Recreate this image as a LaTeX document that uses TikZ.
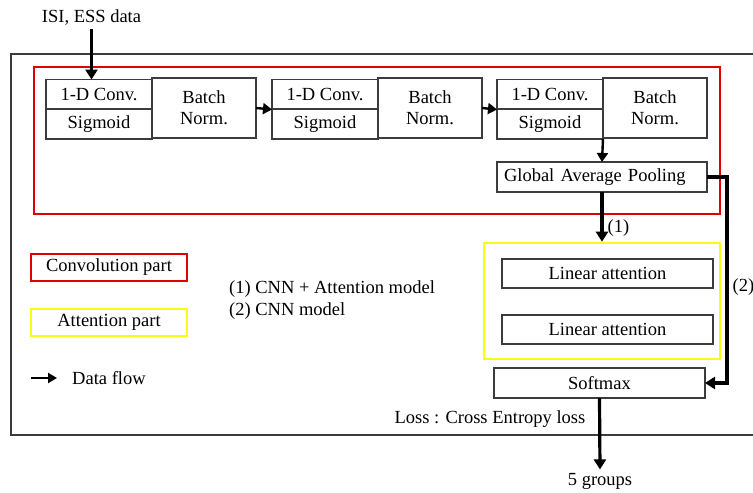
\documentclass[tikz,border=0pt]{standalone}
\usepackage{fontspec}
\setmainfont{Liberation Serif}
\usetikzlibrary{arrows.meta}
\definecolor{redbox}{RGB}{225,0,0}
\definecolor{yelbox}{RGB}{255,250,20}
\definecolor{boxline}{RGB}{60,60,60}
\newcommand{\fsz}{\fontsize{18.5}{22}\selectfont}
\tikzset{
  every node/.style={font=\fsz, text=black},
  cell/.style={draw=boxline, line width=1.1pt, inner sep=0pt, outer sep=0pt, align=center},
  flow/.style={draw=black, line width=3.2pt, -{Triangle[length=10pt,width=12pt]}},
  thinflow/.style={draw=black, line width=2.4pt, -{Triangle[length=9pt,width=11pt]}},
  redframe/.style={draw=redbox, line width=2.4pt, inner sep=0pt},
  yelframe/.style={draw=yelbox, line width=2.6pt, inner sep=0pt},
}
\begin{document}
\begin{tikzpicture}[x=1pt,y=-1pt]
\useasboundingbox (0,0) rectangle (753,493);
% outer frame (right side lies beyond the picture)
\draw[draw=boxline, line width=1.2pt] (753,54) -- (11,54) -- (11,435) -- (753,435);
% red convolution frame
\node[redframe, minimum width=686pt, minimum height=147pt] (convpart) at (377,140.5) {};
% blocks
\foreach \i/\x in {1/46, 2/272, 3/497} {
  \node[cell, minimum width=106pt, minimum height=30pt] (conv\i) at (\x+53,94.5) {1-D Conv.};
  \node[cell, minimum width=106pt, minimum height=30pt] (sig\i) at (\x+53,124) {Sigmoid};
  \node[cell, minimum width=104pt, minimum height=60pt] (bn\i) at (\x+158,108) {Batch\\[-1pt]Norm.};
}
% input
\node (inp) at (91.5,18) {ISI, ESS data};
\draw[flow] (inp.south) -- (inp.south |- conv1.north);
\draw[thinflow] (bn1.east) -- (conv2.south west);
\draw[thinflow] (bn2.east) -- (conv3.south west);
% global average pooling
\node[cell, minimum width=210pt, minimum height=30pt, text width=196pt, align=left] (gap) at (602,177) {Global Average Pooling};
\draw[thinflow] (sig3.south east) -- (gap.north);
% attention part
\node[yelframe, minimum width=236pt, minimum height=116pt] (attpart) at (602,301) {};
\node[cell, minimum width=211pt, minimum height=29pt] (la1) at (607.5,273.5) {Linear attention};
\node[cell, minimum width=211pt, minimum height=29pt] (la2) at (607.5,329.5) {Linear attention};
\draw[flow] (gap.south) -- node[pos=0.72, anchor=west, inner sep=1pt, xshift=3pt] {(1)} (attpart.north);
% softmax
\node[cell, minimum width=211pt, minimum height=30pt] (soft) at (599.5,383) {Softmax};
\coordinate (turn) at (727,177);
\draw[flow] (gap.east) -- (turn) |- node[pos=0.266, anchor=west, inner sep=1pt, xshift=3pt] {(2)} (soft.east);
% output
\node (out) at (600,481) {5 groups};
\draw[flow] (soft.south) -- (out.north);
\node (loss) at (490,419) {Loss : Cross Entropy loss};
% legend
\node[redframe, minimum width=156pt, minimum height=27pt] (legconv) at (109,267.5) {Convolution part};
\node[yelframe, minimum width=156pt, minimum height=27pt] (legatt) at (109,322.5) {Attention part};
\coordinate (dfstart) at (31,378);
\node[anchor=west, inner sep=0pt] (dflabel) at (72,378) {Data flow};
\draw[draw=black, line width=2.6pt, -{Triangle[length=9pt,width=10pt]}, shorten >=15pt] (dfstart) -- (dflabel.west);
\node[anchor=west, align=left, inner sep=0pt] (models) at (229,300) {(1) CNN + Attention model\\(2) CNN model};
\end{tikzpicture}
\end{document}
